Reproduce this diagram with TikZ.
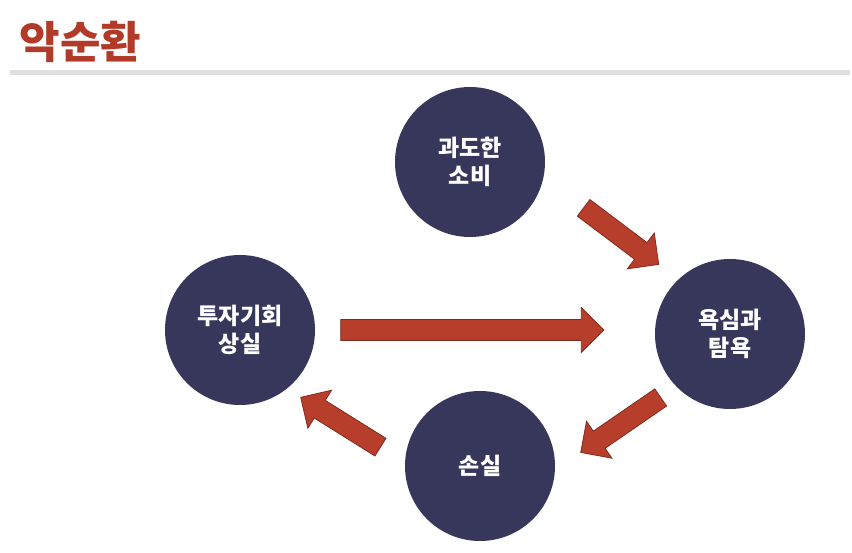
\documentclass[tikz,border=0pt]{standalone}
\usepackage{fontspec}
\newfontfamily\kr{Noto Sans CJK KR}
\usetikzlibrary{shapes.arrows}
\definecolor{navy}{RGB}{55,55,92}
\definecolor{redarr}{RGB}{184,62,44}
\definecolor{titred}{RGB}{178,58,40}
\tikzset{
 circ/.style={circle,fill=navy,minimum size=150pt,inner sep=0pt,text=white,font=\kr\bfseries\fontsize{23pt}{28pt}\selectfont,align=center},
 blockarrow/.style={single arrow,fill=redarr,draw=redarr!70!black,line width=0.8pt,inner xsep=0pt,inner ysep=10pt,text height=0pt,text depth=0pt,single arrow head extend=12pt,single arrow head indent=0pt}
}
\begin{document}
\begin{tikzpicture}[x=1pt,y=-1pt]
\useasboundingbox (0,0) rectangle (852,553);
\fill[white] (0,0) rectangle (852,553);
\node[anchor=west,text=titred,font=\kr\bfseries\fontsize{44pt}{48pt}\selectfont] (title) at (16,42) {악순환};
\fill[gray!25] (10,70) rectangle (850,75);
\node[circ] (top) at (470,162) {과도한\\소비};
\node[circ] (right) at (730,334) {욕심과\\탐욕};
\node[circ] (bot) at (480,466) {손실};
\node[circ] (left) at (240,330) {투자기회\\상실};
\node[blockarrow,minimum height=94pt,rotate=-37] (a1) at (617,233) {};
\node[blockarrow,minimum height=263pt] (a2) at (467,330) {};
\node[blockarrow,minimum height=97pt,rotate=214.5] (a3) at (625,422) {};
\node[blockarrow,minimum height=94pt,rotate=148] (a4) at (345,425) {};
\end{tikzpicture}
\end{document}
